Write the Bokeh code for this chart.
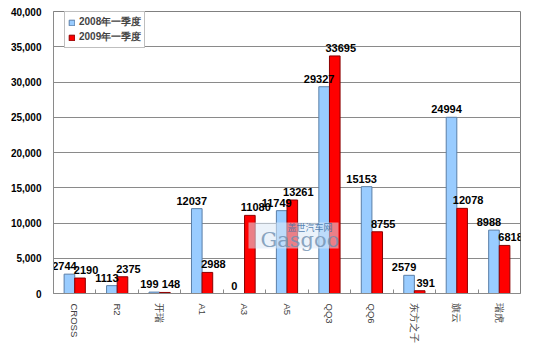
from bokeh.plotting import figure
from bokeh.models import (ColumnDataSource, FactorRange, Range1d, LinearAxis, CategoricalAxis,
                          FixedTicker, NumeralTickFormatter, Legend, LegendItem, Label, BoxAnnotation)
from bokeh.core.properties import value
from bokeh.transform import dodge
from bokeh.embed import file_html
from bokeh.resources import INLINE
import math

categories = ["CROSS", "R2", "开瑞", "A1", "A3", "A5", "QQ3", "QQ6", "东方之子", "旗云", "瑞虎"]
sales_2008 = [2744, 1113, 199, 12037, 0, 11749, 29327, 15153, 2579, 24994, 8988]
sales_2009 = [2190, 2375, 148, 2988, 11080, 13261, 33695, 8755, 391, 12078, 6818]
series_names = ["2008年一季度", "2009年一季度"]
y_ticks = [0, 5000, 10000, 15000, 20000, 25000, 30000, 35000, 40000]

src = ColumnDataSource(dict(cat=categories, a=sales_2008, b=sales_2009,
                            la=[str(v) for v in sales_2008], lb=[str(v) for v in sales_2009]))

p = figure(width=550, height=352, output_backend="svg", toolbar_location=None,
           x_range=FactorRange(*categories, range_padding=0), y_range=Range1d(0, 40000),
           x_axis_location=None, y_axis_location=None,
           min_border_left=53, min_border_right=30, min_border_top=11, min_border_bottom=59)
p.background_fill_color = "white"
p.border_fill_color = "white"
p.outline_line_color = "#808080"
p.outline_line_width = 1

GRID = "#8a8a8a"

# y axis
yax = LinearAxis(ticker=FixedTicker(ticks=y_ticks), formatter=NumeralTickFormatter(format="0,0"))
yax.major_label_text_font = "Liberation Sans"
yax.major_label_text_font_style = "bold"
yax.major_label_text_font_size = "10px"
yax.major_label_text_color = "#000000"
yax.major_tick_line_color = None
yax.minor_tick_line_color = None
yax.axis_line_color = GRID
yax.major_label_standoff = 6
p.add_layout(yax, "left")

# x tick axis: a factor range whose factor centres sit on the category boundaries
n_bounds = len(categories) + 1
bound_factors = [f"b{i}" for i in range(n_bounds)]
p.extra_x_ranges = {"bounds": FactorRange(*bound_factors, range_padding=-1.0 / n_bounds,
                                          range_padding_units="percent")}
tax = CategoricalAxis(x_range_name="bounds")
tax.major_tick_in = 4
tax.major_tick_out = 0
tax.major_tick_line_color = GRID
tax.axis_line_color = GRID
tax.major_label_text_font_size = "0px"
tax.major_label_text_alpha = 0
tax.major_label_standoff = 0
p.add_layout(tax, "below")

# x label axis
xax = CategoricalAxis()
xax.major_tick_line_color = None
xax.axis_line_color = None
xax.major_label_orientation = -math.pi / 2
xax.major_label_text_font = "Liberation Sans"
xax.major_label_text_font_size = "9.5px"
xax.major_label_text_color = "#404040"
xax.major_label_standoff = 4
p.add_layout(xax, "below")

p.xgrid.grid_line_color = None
p.ygrid.ticker = FixedTicker(ticks=y_ticks)
p.ygrid.grid_line_color = GRID
p.ygrid.grid_line_width = 1

BLUE = "#99ccff"
RED = "#ff0000"

r1 = p.vbar(x=dodge("cat", -0.125, range=p.x_range), top="a", width=0.25, source=src,
            fill_color=BLUE, line_color="#5a7fa8", line_width=1)
r2 = p.vbar(x=dodge("cat", 0.125, range=p.x_range), top="b", width=0.25, source=src,
            fill_color=RED, line_color="#8b0000", line_width=1)

p.text(x=dodge("cat", -0.125, range=p.x_range), y="a", text="la", source=src,
       x_offset=-5, y_offset=-4, text_align="center", text_baseline="bottom",
       text_font=value("Liberation Sans"), text_font_style="bold", text_font_size="11px", text_color="black")
p.text(x=dodge("cat", 0.125, range=p.x_range), y="b", text="lb", source=src,
       x_offset=6, y_offset=-4, text_align="center", text_baseline="bottom",
       text_font=value("Liberation Sans"), text_font_style="bold", text_font_size="11px", text_color="black")

# watermark (frame-relative screen units)
p.add_layout(BoxAnnotation(left=195, right=285, bottom=45, top=71,
                           left_units="screen", right_units="screen",
                           bottom_units="screen", top_units="screen",
                           fill_color="#dbe8f5", fill_alpha=0.55, line_color=None))
p.add_layout(Label(x=234, y=66, x_units="screen", y_units="screen", text="盖世汽车网",
                   text_font="Noto Sans CJK SC", text_font_size="9px", text_color="#3b6ea5",
                   text_alpha=0.85, text_align="left", text_baseline="middle"))
p.add_layout(Label(x=207, y=54, x_units="screen", y_units="screen", text="Gasgoo",
                   text_font="DejaVu Serif", text_font_size="21px", text_color="#6f8fb0",
                   text_alpha=0.8, text_align="left", text_baseline="middle"))

legend = Legend(items=[LegendItem(label=series_names[0], renderers=[r1]),
                       LegendItem(label=series_names[1], renderers=[r2])],
                location=(11, 245))
legend.label_text_font = "Liberation Sans"
legend.label_text_font_style = "bold"
legend.label_text_font_size = "10px"
legend.label_text_line_height = 1.0
legend.label_height = 12
legend.glyph_height = 7
legend.glyph_width = 7
legend.label_standoff = 4
legend.spacing = 1
legend.padding = 3
legend.margin = 0
legend.border_line_color = "#808080"
legend.background_fill_color = "white"
legend.background_fill_alpha = 1
p.add_layout(legend)

open("out.html", "w").write(file_html(p, INLINE))
